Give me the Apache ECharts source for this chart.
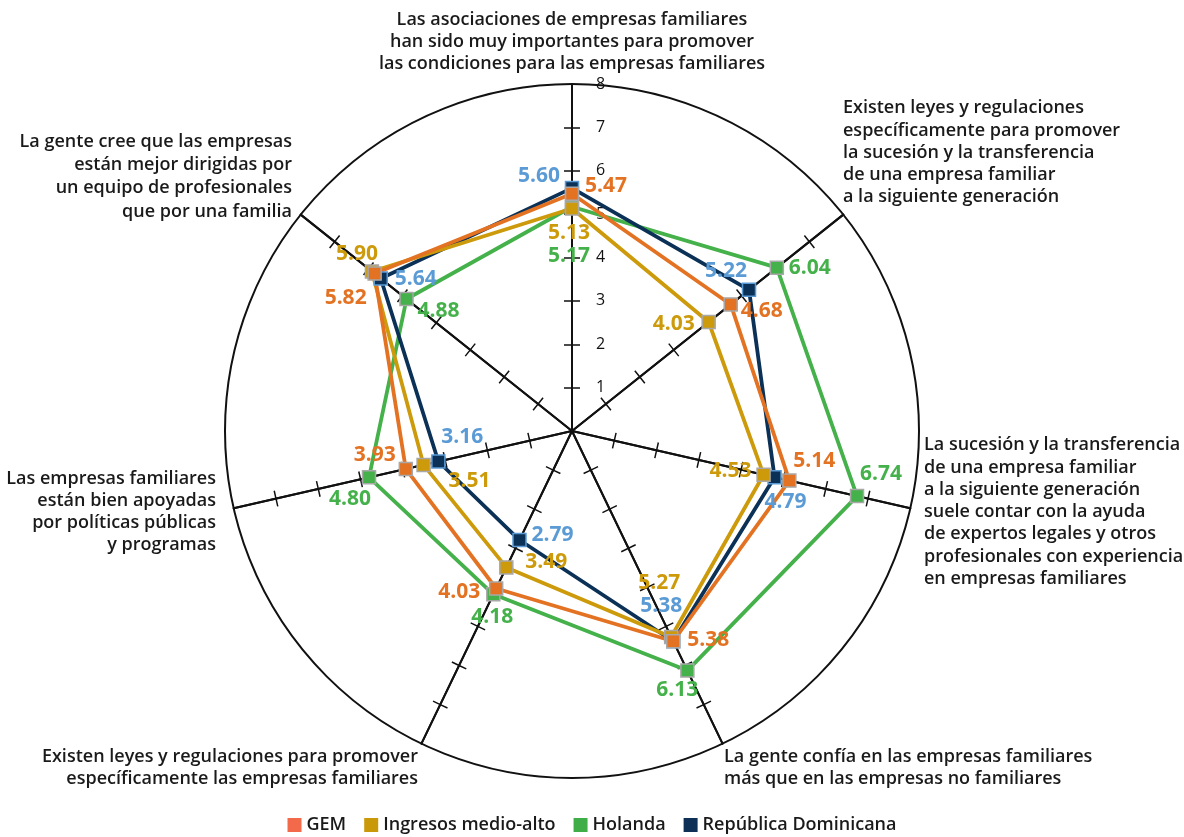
<!DOCTYPE html>
<html><head><meta charset="utf-8">
<script src="https://cdn.jsdelivr.net/npm/echarts@6/dist/echarts.min.js"></script>
<style>html,body{margin:0;padding:0;background:#fff}#c{width:1184px;height:837px}</style>
</head><body><div id="c"></div>
<script>
// Categories, clockwise from the top
const categories = [
  'Las asociaciones de empresas familiares\nhan sido muy importantes para promover\nlas condiciones para las empresas familiares',
  'Existen leyes y regulaciones\nespecíficamente para promover\nla sucesión y la transferencia\nde una empresa familiar\na la siguiente generación',
  'La sucesión y la transferencia\nde una empresa familiar\na la siguiente generación\nsuele contar con la ayuda\nde expertos legales y otros\nprofesionales con experiencia\nen empresas familiares',
  'La gente confía en las empresas familiares\nmás que en las empresas no familiares',
  'Existen leyes y regulaciones para promover\nespecíficamente las empresas familiares',
  'Las empresas familiares\nestán bien apoyadas\npor políticas públicas\ny programas',
  'La gente cree que las empresas\nestán mejor dirigidas por\nun equipo de profesionales\nque por una familia'
];
const axisMax = 8;
const tickValues = [1, 2, 3, 4, 5, 6, 7];
const tickLabels = [1, 2, 3, 4, 5, 6, 7, 8];

const seriesNames = ['GEM', 'Ingresos medio-alto', 'Holanda', 'República Dominicana'];
const gemValues      = [5.47, 4.68, 5.14, 5.38, 4.03, 3.93, 5.82];
const ingresosValues = [5.13, 4.03, 4.53, 5.27, 3.49, 3.51, 5.90];
const holandaValues  = [5.17, 6.04, 6.74, 6.13, 4.18, 4.80, 4.88];
const rdValues       = [5.60, 5.22, 4.79, 5.38, 2.79, 3.16, 5.64];

// Layout (label offsets from each marker, in px)
const gemLabelOffsets      = [[34,-8],[31,7],[25,-20],[35,-1],[-37,4],[-31,-14],[-29,24]];
const ingresosLabelOffsets = [[-3,25],[-35,2],[-33,-4],[-12,-54],[40,-5],[46,16],[-15,-17]];
const holandaLabelOffsets  = [[-3,49],[33,0],[24,-22],[-10,19],[-1,23],[-19,22],[32,12]];
const rdLabelOffsets       = [[-33,-12],[-23,-19],[11,25],[-12,-35],[33,-5],[24,-24],[35,1]];
// name anchors: x, top y, align, lineHeight
const nameAnchors = [
  [572, 9, 'center', 22], [843, 97, 'left', 22.3], [924, 434, 'left', 22.3], [724, 746, 'left', 22],
  [418, 746, 'right', 22], [216, 468, 'right', 22], [292, 130, 'right', 23.3]
];

const CX = 572, CY = 431, R = 347;
const FONT = '"Open Sans", "Noto Sans", sans-serif';

function radarCfg(tickLen, withLabel) {
  return {
    center: [CX, CY], radius: R, startAngle: 90, shape: 'circle', splitNumber: 8,
    indicator: categories.map((c, i) => {
      const o = { name: '', min: 0, max: axisMax };
      if (withLabel && i === 0) o.axisLabel = { show: true };
      return o;
    }),
    axisName: { show: false },
    axisLine: { show: true, lineStyle: { color: '#111', width: 2 } },
    axisTick: { show: true, length: tickLen, customValues: tickValues, lineStyle: { color: '#111', width: 1.5 } },
    axisLabel: { show: false, customValues: tickLabels, color: '#111', fontSize: 16, fontFamily: FONT, margin: -24, align: 'left' },
    splitLine: { show: false },
    splitArea: { show: false }
  };
}

function makeSeries(name, values, color, labelColor, borderColor, offsets) {
  const data = values.map((v, i) => ({ value: [v, i], label: { offset: offsets[i] } }));
  data.push({ value: [values[0], categories.length], symbol: 'none', label: { show: false } });
  return {
    type: 'line', name: name, coordinateSystem: 'polar', data: data,
    symbol: 'rect', symbolSize: 13, smooth: false,
    lineStyle: { color: color, width: 3.8 },
    itemStyle: { color: color, borderColor: borderColor, borderWidth: 1.5 },
    label: {
      show: true, position: 'inside', color: labelColor, fontSize: 21, fontWeight: 'bold', fontFamily: FONT,
      formatter: p => p.value[0].toFixed(2)
    },
    emphasis: { disabled: true },
    animation: false
  };
}

const colors = { gem: '#E37222', ing: '#CC9A0A', hol: '#45B14A', rd: '#0C3157' };

const option = {
  backgroundColor: '#fff',
  animation: false,
  radar: [radarCfg(8, true), radarCfg(-8, false)],
  polar: { center: [CX, CY], radius: R },
  angleAxis: {
    type: 'value', min: 0, max: categories.length, startAngle: 90, clockwise: true,
    axisLine: { show: true, lineStyle: { color: '#111', width: 2 } },
    axisTick: { show: false }, axisLabel: { show: false }, splitLine: { show: false }
  },
  radiusAxis: {
    type: 'value', min: 0, max: axisMax,
    axisLine: { show: false }, axisTick: { show: false }, axisLabel: { show: false }, splitLine: { show: false }
  },
  legend: {
    left: 'center', top: 816, padding: 0, itemWidth: 14, itemHeight: 14, itemGap: 18, icon: 'rect',
    textStyle: { fontSize: 18, fontFamily: FONT, fontWeight: 600, color: '#1a1a1a' },
    data: [
      { name: seriesNames[0], itemStyle: { color: '#F26A4A', borderWidth: 0 } },
      { name: seriesNames[1], itemStyle: { color: '#C9990A', borderWidth: 0 } },
      { name: seriesNames[2], itemStyle: { color: '#3FAE49', borderWidth: 0 } },
      { name: seriesNames[3], itemStyle: { color: '#0E2F56', borderWidth: 0 } }
    ]
  },
  graphic: categories.map((t, i) => ({
    type: 'text', x: nameAnchors[i][0], y: nameAnchors[i][1], silent: true,
    style: {
      text: t, align: nameAnchors[i][2], verticalAlign: 'top', lineHeight: nameAnchors[i][3],
      fontSize: 18, fontWeight: 600, fontFamily: FONT, fill: '#1a1a1a'
    }
  })),
  series: [
    makeSeries(seriesNames[2], holandaValues, colors.hol, colors.hol, '#A8A8A8', holandaLabelOffsets),
    makeSeries(seriesNames[3], rdValues, colors.rd, '#5B9BD5', '#5B9BD5', rdLabelOffsets),
    makeSeries(seriesNames[1], ingresosValues, colors.ing, colors.ing, '#A8A8A8', ingresosLabelOffsets),
    makeSeries(seriesNames[0], gemValues, colors.gem, colors.gem, '#A8A8A8', gemLabelOffsets)
  ]
};

const chart = echarts.init(document.getElementById('c'), null, { renderer: 'canvas' });
chart.setOption(option);
</script>
</body></html>
